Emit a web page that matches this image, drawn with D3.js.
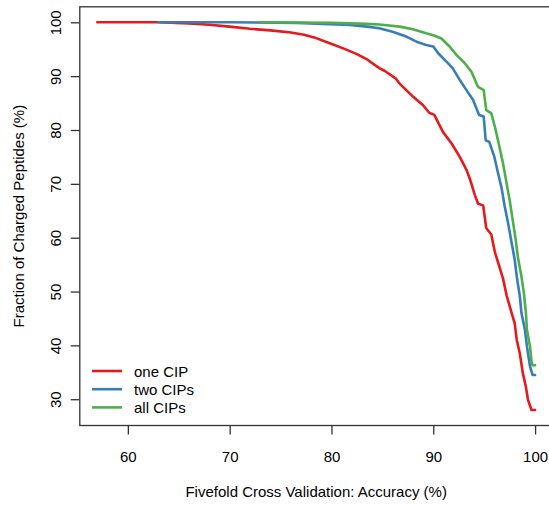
<!DOCTYPE html>
<html>
<head>
<meta charset="utf-8">
<script src="https://cdn.jsdelivr.net/npm/d3@7"></script>
<style>
  html, body { margin: 0; padding: 0; background: #fff; }
  svg { display: block; }
  text { font-family: "Liberation Sans", Arial, Helvetica, sans-serif; fill: #000; }
</style>
</head>
<body>
<svg id="chart" width="549" height="506"></svg>
<script>
// ---- data ----
const seriesNames = ["one CIP", "two CIPs", "all CIPs"];
const seriesColors = ["#E41A1C", "#377EB8", "#4DAF4A"];

const oneCIP_x = [57, 63, 66, 68, 70, 72, 74, 76, 77.3, 78.3, 79.7, 81.1, 82.5, 83.5, 84.7, 85.2, 86.3, 86.7, 88.0, 89.0, 89.6, 90.1, 90.96, 91.8, 92.6, 93.26, 93.6, 94.07, 94.4, 94.9, 95.2, 95.7, 96.05, 96.5, 96.85, 97.2, 97.7, 98.0, 98.2, 98.5, 98.8, 99.1, 99.3, 99.65, 100];
const oneCIP_y = [100, 100, 99.8, 99.55, 99.2, 98.8, 98.5, 98.1, 97.7, 97.2, 96.2, 95.2, 94.1, 93.1, 91.5, 91.0, 89.6, 88.6, 86.2, 84.6, 83.2, 82.8, 79.6, 77.5, 75.0, 72.6, 70.9, 68.0, 66.3, 66.0, 61.8, 60.6, 57.3, 54.6, 52.4, 49.3, 46.0, 44.1, 41.0, 38.5, 34.8, 32.3, 29.9, 28.0, 28.0];

const twoCIPs_x = [63, 70, 76.6, 81.8, 83.5, 84.7, 86.0, 87.4, 88.35, 89.3, 90.0, 90.5, 91.3, 91.9, 92.6, 93.26, 93.9, 94.5, 94.95, 95.15, 95.5, 96.0, 96.36, 96.7, 97.0, 97.35, 97.7, 98.0, 98.2, 98.5, 98.66, 99.0, 99.2, 99.5, 99.75, 100];
const twoCIPs_y = [100, 100, 99.9, 99.5, 99.2, 98.9, 98.25, 97.3, 96.4, 95.8, 95.5, 94.2, 92.7, 91.5, 89.3, 87.4, 85.6, 82.8, 82.5, 78.1, 77.8, 75.0, 72.0, 69.3, 66.0, 62.7, 59.0, 55.9, 52.8, 49.1, 46.0, 42.9, 39.8, 36.1, 34.5, 34.5];

const allCIPs_x = [73, 80, 83.5, 84.7, 86.7, 88.0, 89.3, 90.0, 90.8, 91.6, 92.3, 93.1, 93.75, 94.4, 94.95, 95.2, 95.7, 96.05, 96.5, 96.85, 97.2, 97.5, 97.8, 98.1, 98.3, 98.66, 98.9, 99.1, 99.2, 99.5, 99.65, 99.75, 100];
const allCIPs_y = [100, 99.9, 99.7, 99.6, 99.2, 98.7, 97.95, 97.6, 97.0, 95.5, 93.9, 92.4, 90.8, 88.0, 87.4, 83.7, 83.1, 80.6, 76.9, 73.8, 70.1, 67.0, 63.3, 59.6, 56.5, 52.8, 49.7, 46.0, 42.9, 39.8, 37.0, 36.3, 36.3];

const xTicks = [60, 70, 80, 90, 100];
const yTicks = [30, 40, 50, 60, 70, 80, 90, 100];
const xLabel = "Fivefold Cross Validation: Accuracy (%)";
const yLabel = "Fraction of Charged Peptides (%)";

// ---- build ----
const seriesX = [oneCIP_x, twoCIPs_x, allCIPs_x];
const seriesY = [oneCIP_y, twoCIPs_y, allCIPs_y];
const series = seriesNames.map((name, i) => ({
  name, color: seriesColors[i],
  pts: seriesX[i].map((xv, j) => [xv, seriesY[i][j]])
}));

const svg = d3.select("#chart");
const x = d3.scaleLinear().domain([55.28, 101.72]).range([79.8, 552.6]);
const y = d3.scaleLinear().domain([25.12, 102.88]).range([425.5, 6.8]);

const axisColor = "#333";

// box
svg.append("rect")
  .attr("x", x.range()[0]).attr("y", y.range()[1])
  .attr("width", x.range()[1] - x.range()[0])
  .attr("height", y.range()[0] - y.range()[1])
  .attr("fill", "none").attr("stroke", axisColor).attr("stroke-width", 1.3);

// x axis
const xAxis = d3.axisBottom(x).tickValues(xTicks).tickSize(9).tickPadding(6).tickFormat(d3.format("d"));
const gx = svg.append("g").attr("transform", `translate(0,${y.range()[0]})`).call(xAxis);
gx.select(".domain").remove();
gx.selectAll(".tick line").attr("stroke", axisColor).attr("stroke-width", 1.3);
gx.selectAll(".tick text").attr("font-size", 15).attr("font-family", "Liberation Sans, Arial, sans-serif")
  .attr("fill", "#000").attr("y", 0).attr("dy", 0).attr("transform", "translate(0,36)");

// y axis
const yAxis = d3.axisLeft(y).tickValues(yTicks).tickSize(9).tickFormat(d3.format("d"));
const gy = svg.append("g").attr("transform", `translate(${x.range()[0]},0)`).call(yAxis);
gy.select(".domain").remove();
gy.selectAll(".tick line").attr("stroke", axisColor).attr("stroke-width", 1.3);
gy.selectAll(".tick text")
  .attr("font-size", 15).attr("font-family", "Liberation Sans, Arial, sans-serif").attr("fill", "#000")
  .attr("x", null).attr("dy", null).attr("text-anchor", "middle")
  .attr("transform", "translate(-18.5,0) rotate(-90)");

// axis labels
const cx = (x.range()[0] + x.range()[1]) / 2;
const cy = (y.range()[0] + y.range()[1]) / 2;
svg.append("text").attr("x", cx).attr("y", 497).attr("text-anchor", "middle")
  .attr("font-size", 15).text(xLabel);
svg.append("text").attr("transform", `translate(23.5,${cy}) rotate(-90)`)
  .attr("text-anchor", "middle").attr("font-size", 15).text(yLabel);

// lines
const line = d3.line().x(d => x(d[0])).y(d => y(d[1]));
svg.append("g").selectAll("path").data(series).join("path")
  .attr("d", d => line(d.pts))
  .attr("fill", "none").attr("stroke", d => d.color)
  .attr("stroke-width", 2.6).attr("stroke-linejoin", "round").attr("stroke-linecap", "round");

// legend
const legY0 = 371, legDy = 18.2;
const leg = svg.append("g").selectAll("g").data(series).join("g")
  .attr("transform", (d, i) => `translate(0,${legY0 + i * legDy})`);
leg.append("line").attr("x1", 92).attr("x2", 122).attr("y1", 0).attr("y2", 0)
  .attr("stroke", d => d.color).attr("stroke-width", 2.6);
leg.append("text").attr("x", 134).attr("y", 5.6).attr("font-size", 15).text(d => d.name);
</script>
</body>
</html>
